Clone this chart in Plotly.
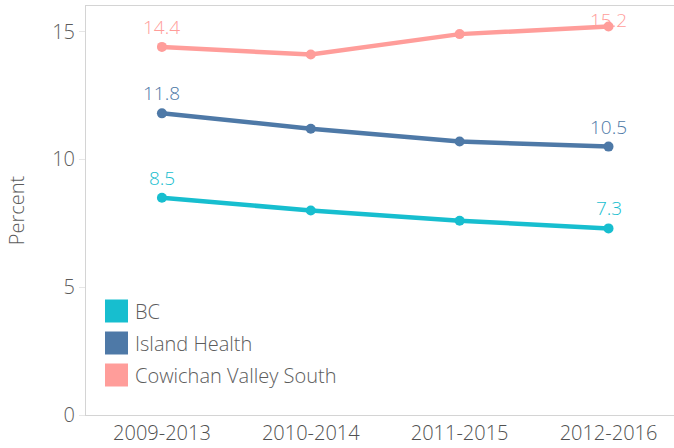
import plotly.graph_objects as go

periods = ["2009-2013", "2010-2014", "2011-2015", "2012-2016"]
series_names = ["BC", "Island Health", "Cowichan Valley South"]
bc = [8.5, 8.0, 7.6, 7.3]
island_health = [11.8, 11.2, 10.7, 10.5]
cowichan = [14.4, 14.1, 14.9, 15.2]
colors = ["#17BECF", "#4E79A7", "#FF9D9A"]
y_ticks = [0, 5, 10, 15]

series_values = [bc, island_health, cowichan]
FONT = "Open Sans"
FS = 20
W = 350
TXT = "#5c5c5c"

fig = go.Figure()
annotations = []
shapes = []
for name, vals, col in zip(series_names, series_values, colors):
    fig.add_trace(go.Scatter(
        x=periods, y=vals, mode="lines+markers", name=name,
        line=dict(color=col, width=4.5),
        marker=dict(color=col, size=10),
        showlegend=False, hoverinfo="skip",
    ))
    for idx in (0, len(vals) - 1):
        v = vals[idx]
        shift = 20 if v < 15 else 6
        annotations.append(dict(
            x=periods[idx], y=v, xref="x", yref="y", text=f"{v:.1f}",
            showarrow=False, yshift=shift,
            font=dict(family=FONT, size=19, color=col, weight=W),
        ))

# legend (square swatches + labels)
for i, (name, col) in enumerate(zip(series_names, colors)):
    yc = 311 + i * 32
    shapes.append(dict(type="rect", xref="paper", yref="paper",
                       x0=(105 - 86) / 588, x1=(128 - 86) / 588,
                       y0=(415 - (yc + 11.5)) / 409, y1=(415 - (yc - 11.5)) / 409,
                       fillcolor=col, line=dict(width=0)))
    annotations.append(dict(x=(133 - 86) / 588, y=(415 - yc) / 409, xref="paper", yref="paper",
                            text=name, showarrow=False, xanchor="left", yanchor="middle",
                            font=dict(family=FONT, size=FS, color=TXT, weight=W)))

fig.update_layout(
    width=674, height=448,
    margin=dict(l=86, r=0, t=6, b=33),
    paper_bgcolor="white", plot_bgcolor="white",
    font=dict(family=FONT, size=FS, color=TXT, weight=W),
    annotations=annotations, shapes=shapes,
    showlegend=False,
)
fig.update_xaxes(
    range=[-0.51, 3.44], showgrid=False, showline=True, linecolor="#d4d4d4", linewidth=1,
    mirror=True, ticks="", tickfont=dict(family=FONT, size=FS, color="#505050", weight=W),
    zeroline=False, automargin=False,
)
fig.update_yaxes(
    range=[0, 16], tickvals=y_ticks, showgrid=False, showline=True, linecolor="#d4d4d4",
    linewidth=1, ticks="outside", ticklen=6, tickcolor="#e6e6e6",
    tickfont=dict(family=FONT, size=FS, color=TXT, weight=W), zeroline=False, automargin=False,
    title=dict(text="Percent", font=dict(family=FONT, size=20, color=TXT, weight=W), standoff=22),
)
fig.write_html("out.html", config={"displayModeBar": False},
               post_script="document.body.style.margin='0';document.body.style.overflow='hidden';")
